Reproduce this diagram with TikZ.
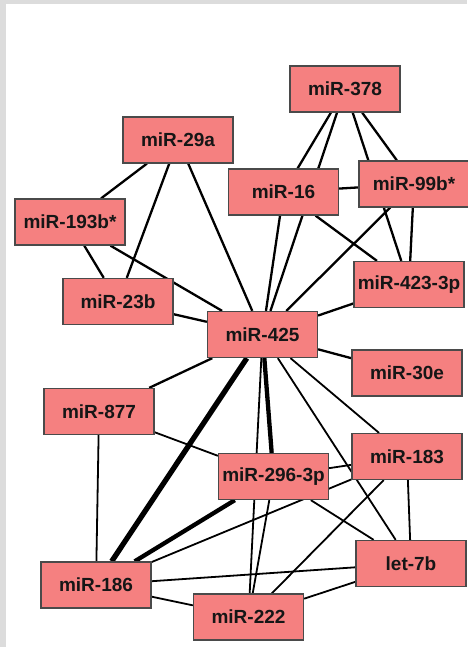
\documentclass[tikz,border=0pt]{standalone}
\usepackage{fontspec}
\setmainfont{Liberation Sans}
\pgfdeclarelayer{bglayer}
\pgfdeclarelayer{edgelayer}
\pgfsetlayers{bglayer,edgelayer,main}
\definecolor{framegray}{HTML}{DCDCDC}
\definecolor{mirfill}{HTML}{F58080}
\definecolor{mirborder}{HTML}{4A4A4A}
\definecolor{mirtext}{HTML}{161616}
\tikzset{
  mir/.style={draw=mirborder, line width=1.3pt, fill=mirfill, rectangle,
    minimum width=110pt, minimum height=46pt, inner sep=0pt,
    font=\bfseries\fontsize{19}{21}\selectfont, text=mirtext},
  link/.style={line width=2.3pt, black},
  finelink/.style={line width=1.8pt, black},
  heavylink/.style={line width=4.3pt, black},
  heaviestlink/.style={line width=5.3pt, black},
}
\begin{document}
\begin{tikzpicture}[x=1pt,y=-1pt]
\useasboundingbox (0,0) rectangle (467,647);
\begin{pgfonlayer}{bglayer}
  \fill[framegray] (0,0) rectangle (467,647);
  \fill[white] (6,4) rectangle (467,647);
\end{pgfonlayer}

% nodes
\node[mir] (n378) at (345,89) {miR-378};
\node[mir] (n29a) at (178,140) {miR-29a};
\node[mir] (n16) at (283.5,192) {miR-16};
\node[mir] (n99b) at (414,184) {miR-99b*};
\node[mir] (n193b) at (70,222) {miR-193b*};
\node[mir] (n423) at (409,284.5) {miR-423-3p};
\node[mir] (n23b) at (118,301.5) {miR-23b};
\node[mir] (n425) at (262.5,334.5) {miR-425};
\node[mir] (n30e) at (407,373) {miR-30e};
\node[mir] (n877) at (99,411.5) {miR-877};
\node[mir] (n183) at (407,456.5) {miR-183};
\node[mir] (n296) at (273.5,476.5) {miR-296-3p};
\node[mir] (nlet7b) at (411,563.5) {let-7b};
\node[mir] (n186) at (96,585) {miR-186};
\node[mir] (n222) at (248.5,617) {miR-222};

% interactions
\begin{pgfonlayer}{edgelayer}
  \draw[link] (n378) -- (n16);
  \draw[link] (n378) -- (n425);
  \draw[link] (n16) -- (n425);
  \draw[link] (n378) -- (n99b);
  \draw[link] (n378) -- (n423);
  \draw[link] (n99b) -- (n423);
  \draw[link] (n16) -- (n99b);
  \draw[link] (n16) -- (n423);
  \draw[link] (n99b) -- (n425);
  \draw[link] (n423) -- (n425);
  \draw[link] (n29a) -- (n193b);
  \draw[link] (n29a) -- (n23b);
  \draw[link] (n29a) -- (n425);
  \draw[link] (n193b) -- (n23b);
  \draw[link] (n193b) -- (n425);
  \draw[link] (n23b) -- (n425);
  \draw[link] (n425) -- (n30e);
  \draw[link] (n425) -- (n877);
  \draw[heaviestlink] (n425) -- (n186);
  \draw[heavylink] (n425) -- (n296);
  \draw[finelink] (n425) -- (n222);
  \draw[finelink] (n425) -- (nlet7b);
  \draw[finelink] (n425) -- (n183);
  \draw[finelink] (n877) -- (n296);
  \draw[finelink] (n877) -- (n186);
  \draw[finelink] (n296) -- (n183);
  \draw[finelink] (n186) -- (n183);
  \draw[finelink] (n296) -- (nlet7b);
  \draw[finelink] (n183) -- (n222);
  \draw[finelink] (n183) -- (nlet7b);
  \draw[finelink] (n186) -- (nlet7b);
  \draw[finelink] (n186) -- (n222);
  \draw[finelink] (n222) -- (nlet7b);
  \draw[heavylink] (n186) -- (n296);
  \draw[finelink] (n296) -- (n222);
\end{pgfonlayer}
\end{tikzpicture}
\end{document}
